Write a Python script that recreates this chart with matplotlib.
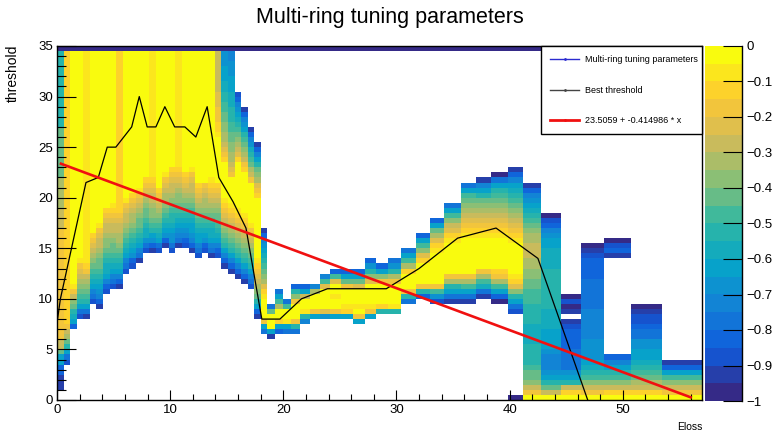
import re
import numpy as np
import matplotlib
matplotlib.use("Agg")
import matplotlib.pyplot as plt
from matplotlib.colors import LinearSegmentedColormap, ListedColormap, BoundaryNorm
from matplotlib.lines import Line2D
from matplotlib.ticker import MultipleLocator

plt.rcParams["font.family"] = ["Liberation Sans", "DejaVu Sans"]

# --- data ----------------------------------------------------------------
# column edges in Eloss (bins get wider to the right)
x_edges = [0.0, 0.58, 1.16, 1.74, 2.33, 2.91, 3.49, 4.07, 4.65, 5.23, 5.81,
           6.39, 6.98, 7.56, 8.14, 8.72, 9.30, 9.88, 10.46, 11.04, 11.63,
           12.21, 12.79, 13.37, 13.95, 14.53, 15.11, 15.69, 16.28, 16.86,
           17.44, 18.02, 18.6, 19.24, 19.97, 20.71, 21.45, 22.33, 23.21,
           24.10, 25.13, 26.15, 27.18, 28.21, 29.24, 30.42, 31.74, 32.92,
           34.24, 35.71, 37.04, 38.36, 39.83, 41.15, 42.78, 44.54, 46.31,
           48.37, 50.72, 53.5, 57.0]
row_height = 0.5
y_max = 35.0

# filled range of every column and its cell levels from the bottom up
# letters a..t = 20 colour levels (-1 .. 0), "." = empty cell,
# a number repeats the letter, "+" repeats it to fill the column
col_bottom = [1.0, 3.5, 7.0, 8.0, 8.0, 9.5, 9.0, 10.5, 11.0, 11.0, 12.5,
              13.0, 13.5, 14.5, 14.5, 14.5, 15.0, 14.5, 15.0, 15.0, 14.5,
              14.0, 14.5, 14.0, 14.0, 13.0, 12.5, 12.0, 11.5, 11.0, 8.0, 6.5,
              6.0, 6.5, 6.5, 6.5, 7.5, 8.0, 8.0, 8.0, 8.0, 7.5, 8.0, 8.5,
              8.5, 9.5, 10.0, 9.5, 9.5, 9.5, 10.0, 9.5, 0.0,
              0.0, 0.0, 0.0, 0.0, 0.0, 0.0, 0.0]
col_top = [34.5] * 27 + [30.5, 29.0, 27.0, 25.5, 17.0,
           9.5, 11.0, 10.0, 11.5, 11.5, 11.5, 12.5, 13.0, 13.0, 13.0, 14.0,
           13.5, 14.0, 15.0, 16.5, 18.0, 19.5, 21.5, 22.0, 22.5, 23.0,
           21.5, 18.5, 10.5, 15.5, 16.0, 9.5, 4.0]
col_profile = [
    "b3d2h2lo2q+o4n6l10j15",
    "cehjlnoqr+",
    "dhijlmoqst+",
    "cehjklmnopqst+",
    "behjklmnoqrs+",
    "cefhijklmnopqrt+",
    "bdfghijkllmnoopqst+",
    "cdfhiijklmmnoopqrt+",
    "cefhijkllmnoopqrst+",
    "bdfhijklmnnoopqr+",
    "cefhijklmnoopqst+",
    "cdghijklmnnopqrt+",
    "befhijkllmnopqst+",
    "cegiijkllmnopqrt+",
    "bdghjklmmnoopqrs+",
    "cehijklmnopqrt+",
    "bdghijklmnnopqst+",
    "cegghijjklmnoopqrt+",
    "befghijklmmnopqrs+",
    "cdfghijklmnopqrt+",
    "bdfghhijklmnoopqst+",
    "cefhhijklmnopqrt+",
    "cdghijklmnnopqt+",
    "befhiijklmnopqrst+",
    "cdfhijkllmnopqrt+sr2q3p3o8",
    "bdfhjklmnopqrst+rqpon2m2l2k2j2i2h3g3",
    "bdfhjklmnopqrst+qpon2m2l2k2j3i3h3g3f2",
    "bdfhjklmnopqrst+rponmlkjihgfdc",
    "bdfhjklmnopqrst+rqonmlkjhgfdb",
    "cefhjklmnopqst+qonlkjigfdb",
    "bdhjlmnopqrst+rqpnmljhfdb",
    "ehqt4srpnmlkjihgfdb",
    "bht3le",
    "dhrt2nkhe",
    "ehst2ke",
    "ejqt3qmjd",
    "fjst2ohd",
    "hqt3nf",
    "gpt4pkf",
    "hqt2st2pkd",
    "hrst3qlhd",
    "hqtst3plhd",
    "hqst4pmjgd",
    "jrt4qmhd",
    "jst4qnjge",
    "ejqt3rnkhe",
    "djqt4rpmkhd",
    "cgkqt6srpnlhd",
    "behjnqt6srpomkhe",
    "behknqt7srqponmlkhe",
    "beiknqt6srqponmljhfb",
    "adhknqrt6srqponmlkjhea",
    "a.16cehjmprst6srqponmlkjihfdb",
    "tqomllkj4i4j4k3l2m2n2o3n2mlkjihgfdb",
    "toljhgf3gh4i4j8i4h2gfdca",
    "trojhge4d4cb.baca",
    "tqomkjihg4f6e6d4cba",
    "tromkjhfd.19bdca",
    "tronlkjih2g2e2dc2ba",
    "tqomkhdb",
]
top_row_level = "a"

best_x = [0.05, 0.3, 2.56, 3.65, 4.44, 5.2, 6.6, 7.27, 7.97, 8.74, 9.53,
          10.4, 11.3, 12.27, 13.27, 14.3, 15.56, 16.7, 18.1, 19.7, 21.6,
          23.9, 29.1, 32.0, 35.4, 38.8, 42.5, 46.9]
best_y = [8, 10, 21.5, 22, 25, 25, 27, 30, 27, 27, 29, 27, 27, 26, 29, 22,
          19.6, 17, 8, 8, 10, 11, 11, 13, 16, 17, 14, 0]

fit_intercept = 23.5059
fit_slope = -0.414986
fit_range = [0.35, 56.0]

z_ticks = [0, -0.1, -0.2, -0.3, -0.4, -0.5, -0.6, -0.7, -0.8, -0.9, -1]
z_tick_labels = ["0", "\u22120.1", "\u22120.2", "\u22120.3", "\u22120.4",
                 "\u22120.5", "\u22120.6", "\u22120.7", "\u22120.8",
                 "\u22120.9", "\u22121"]
x_ticks = [0, 10, 20, 30, 40, 50]
y_ticks = [0, 5, 10, 15, 20, 25, 30, 35]

LEVELS = "abcdefghijklmnopqrst"


def decode(profile, nrows):
    tokens = re.findall(r"([a-t.])(\d+|\+)?", profile)
    fixed = sum(int(n) if n else 1 for _, n in tokens if n != "+")
    cells = []
    for ch, n in tokens:
        if n == "+":
            k = nrows - fixed
        elif n:
            k = int(n)
        else:
            k = 1
        cells += [ch] * k
    assert len(cells) == nrows, (profile, len(cells), nrows)
    return cells


def level_value(ch):
    return -1 + (LEVELS.index(ch) + 0.5) * 0.05


def build_grid():
    nrows = int(round(y_max / row_height))
    z = np.full((nrows, len(x_edges) - 1), np.nan)
    for j, prof in enumerate(col_profile):
        b = int(round(col_bottom[j] / row_height))
        t = int(round(col_top[j] / row_height))
        for k, ch in enumerate(decode(prof, t - b)):
            if ch != ".":
                z[b + k, j] = level_value(ch)
    z[nrows - 1, :] = level_value(top_row_level)
    return np.ma.masked_invalid(z)


def bird_cmap():
    stops = [0, .125, .25, .375, .5, .625, .75, .875, 1]
    red = [0.2082, 0.0592, 0.0780, 0.0232, 0.1802, 0.5301, 0.8186, 0.9956, 0.9764]
    green = [0.1664, 0.3599, 0.5041, 0.6419, 0.7178, 0.7492, 0.7328, 0.7862, 0.9832]
    blue = [0.5293, 0.8684, 0.8385, 0.7914, 0.6425, 0.4662, 0.3499, 0.1968, 0.0539]
    smooth = LinearSegmentedColormap.from_list(
        "bird", list(zip(stops, zip(red, green, blue))))
    return ListedColormap([smooth(k / 19) for k in range(20)])


fig = plt.figure(figsize=(7.74, 4.32), dpi=100)
ax = fig.add_axes([57 / 774, 1 - 400 / 432, 645 / 774, 354 / 432])
cax = fig.add_axes([705 / 774, 1 - 401 / 432, 37 / 774, 355 / 432])

z = build_grid()
y_edges = np.arange(0, y_max + row_height / 2, row_height)
norm = BoundaryNorm(np.linspace(-1, 0, 21), 20)
mesh = ax.pcolormesh(x_edges, y_edges, z, cmap=bird_cmap(), norm=norm,
                     shading="flat", antialiased=False, linewidth=0)

ax.plot(best_x, best_y, color="black", lw=0.9, zorder=3)
fx = np.array(fit_range)
ax.plot(fx, fit_intercept + fit_slope * fx, color="#f01010", lw=1.9, zorder=4)

ax.set_xlim(0, 57)
ax.set_ylim(0, 35)
ax.set_xticks(x_ticks)
ax.set_yticks(y_ticks)
ax.xaxis.set_minor_locator(MultipleLocator(2))
ax.yaxis.set_minor_locator(MultipleLocator(1))
ax.tick_params(axis="x", which="major", direction="in", length=7.2, width=0.8,
               labelsize=9.5, pad=3)
ax.tick_params(axis="x", which="minor", direction="in", length=4, width=0.8)
ax.tick_params(axis="y", which="major", direction="in", length=13.7, width=0.8,
               labelsize=9.5, pad=3)
ax.tick_params(axis="y", which="minor", direction="in", length=6.8, width=0.8)
for s in ax.spines.values():
    s.set_linewidth(1.0)

handles = [
    Line2D([], [], color="#2b2bd0", lw=1, marker=".", ms=2),
    Line2D([], [], color="#444444", lw=1, marker=".", ms=2),
    Line2D([], [], color="#f01010", lw=2, marker=".", ms=2),
]
labels = ["Multi-ring tuning parameters", "Best threshold",
          "23.5059 + -0.414986 * x"]
leg = ax.legend(handles, labels, loc="upper right", mode="expand",
                bbox_to_anchor=(0.75, 0.0, 0.25, 1.0), borderaxespad=0,
                fontsize=6.5, handlelength=3.2, handletextpad=0.7,
                labelspacing=2.35, borderpad=1.05, fancybox=False,
                framealpha=1, edgecolor="black")
leg.get_frame().set_linewidth(1.0)
leg.set_zorder(5)

cb = fig.colorbar(mesh, cax=cax, ticks=z_ticks)
cb.ax.set_yticklabels(z_tick_labels)
cb.minorticks_off()
cb.outline.set_visible(False)
cax.tick_params(direction="in", length=13.7, width=0.8, labelsize=9.5, pad=3)
cax.plot([1, 1], [0, 1], transform=cax.transAxes, color="black", lw=1,
         clip_on=False)

fig.text(0.504, 1 - 17 / 432, "Multi-ring tuning parameters", ha="center",
         va="center", fontsize=15.5)
fig.text(13 / 774, 1 - 45 / 432, "threshold", rotation=90, ha="center",
         va="top", fontsize=10)
ax.text(1.0, -0.075, "Eloss", transform=ax.transAxes, ha="right",
        va="center", fontsize=7.5)

fig.savefig("out.png", dpi=100)
